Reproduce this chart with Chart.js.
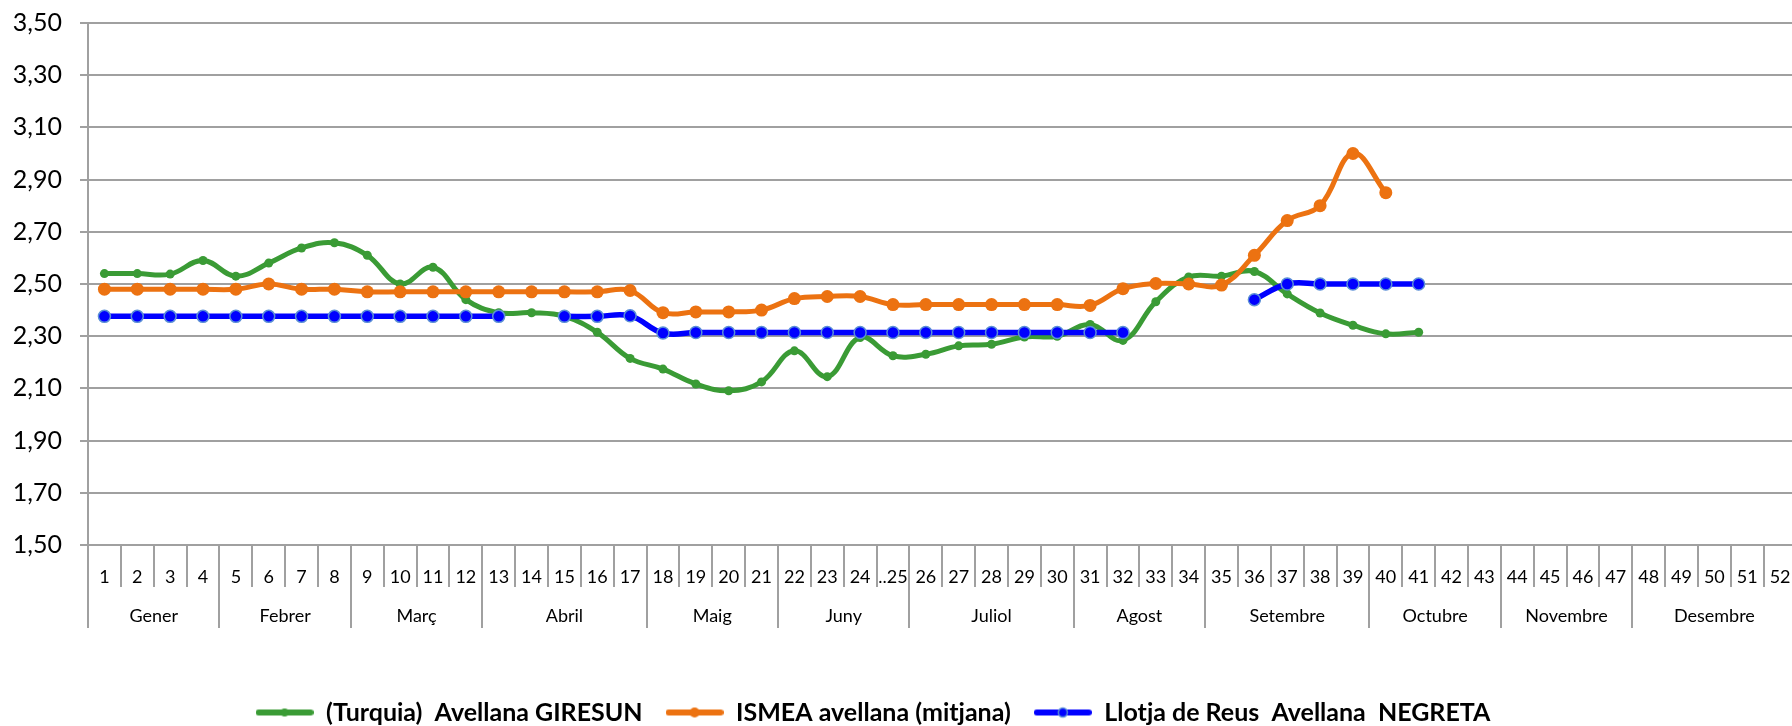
<!DOCTYPE html>
<html>
<head>
<meta charset="utf-8">
<script src="https://cdn.jsdelivr.net/npm/chart.js@4/dist/chart.umd.min.js"></script>
<style>
  html, body { margin: 0; padding: 0; background: #fff; overflow: hidden; }
  #wrap { width: 1804px; height: 726px; }
</style>
</head>
<body>
<div id="wrap"><canvas id="chart" width="1804" height="726"></canvas></div>
<script>
// setmanes de l'any
const weeks = ['1','2','3','4','5','6','7','8','9','10','11','12','13','14','15','16','17','18','19','20',
  '21','22','23','24','..25','26','27','28','29','30','31','32','33','34','35','36','37','38','39','40',
  '41','42','43','44','45','46','47','48','49','50','51','52'];

// mesos i nombre de setmanes de cada un
const months = ['Gener','Febrer','Març','Abril','Maig','Juny','Juliol','Agost','Setembre','Octubre','Novembre','Desembre'];
const monthWeeks = [4, 4, 4, 5, 4, 4, 5, 4, 5, 4, 4, 5];

const seriesNames = ['(Turquia)  Avellana GIRESUN', 'ISMEA avellana (mitjana)', 'Llotja de Reus  Avellana  NEGRETA'];

const giresun = [2.54, 2.54, 2.538, 2.59, 2.53, 2.58, 2.638, 2.658, 2.61, 2.50,
  2.564, 2.44, 2.39, 2.39, 2.376, 2.315, 2.215, 2.174, 2.117, 2.091,
  2.125, 2.244, 2.145, 2.295, 2.225, 2.231, 2.263, 2.269, 2.297, 2.30,
  2.345, 2.284, 2.432, 2.527, 2.53, 2.548, 2.462, 2.389, 2.342, 2.309, 2.315,
  null, null, null, null, null, null, null, null, null, null, null];

const ismea = [2.48, 2.48, 2.48, 2.48, 2.48, 2.50, 2.48, 2.48, 2.47, 2.47,
  2.47, 2.47, 2.47, 2.47, 2.47, 2.47, 2.475, 2.39, 2.393, 2.393,
  2.40, 2.444, 2.452, 2.452, 2.421, 2.421, 2.421, 2.421, 2.421, 2.421,
  2.418, 2.482, 2.502, 2.50, 2.496, 2.61, 2.743, 2.80, 3.00, 2.85,
  null, null, null, null, null, null, null, null, null, null, null, null];

const negreta = [2.376, 2.376, 2.376, 2.376, 2.376, 2.376, 2.376, 2.376, 2.376, 2.376,
  2.376, 2.376, 2.376, null, 2.376, 2.376, 2.378, 2.312, 2.314, 2.314,
  2.314, 2.314, 2.314, 2.314, 2.314, 2.314, 2.314, 2.314, 2.314, 2.314,
  2.314, 2.314, null, null, null, 2.44, 2.50, 2.50, 2.50, 2.50, 2.50,
  null, null, null, null, null, null, null, null, null, null, null];

const Y_MIN = 1.5;
const Y_MAX = 3.5;
const Y_STEP = 0.2;

const GREEN = '#3a9b35';
const ORANGE = '#ec7211';
const BLUE = '#0000ff';
const GRID = '#a0a0a0';
const FONT = 'Lato, "Open Sans", sans-serif';

// icona de llegenda: linia amb punt al mig
function legendIcon(color, radius, border) {
  const c = document.createElement('canvas');
  c.width = 58; c.height = 16;
  const g = c.getContext('2d');
  g.strokeStyle = color; g.lineWidth = 6; g.lineCap = 'round';
  g.beginPath(); g.moveTo(3, 8); g.lineTo(55, 8); g.stroke();
  g.fillStyle = color;
  g.beginPath(); g.arc(29, 8, radius, 0, Math.PI * 2); g.fill();
  if (border) { g.strokeStyle = border; g.lineWidth = 1.5; g.stroke(); }
  return c;
}

// separadors de setmanes i mesos sota l'eix
const axisGroups = {
  id: 'axisGroups',
  afterDraw(chart) {
    const { ctx, chartArea, scales: { x } } = chart;
    const half = (x.getPixelForValue(1) - x.getPixelForValue(0)) / 2;
    const top = chartArea.bottom;
    ctx.save();
    ctx.strokeStyle = GRID;
    ctx.lineWidth = 2;
    const bounds = new Set([0]);
    let acc = 0;
    monthWeeks.forEach(n => { acc += n; bounds.add(acc); });
    for (let i = 0; i <= weeks.length; i++) {
      const px = Math.round(x.getPixelForValue(0) - half + i * 2 * half);
      ctx.beginPath();
      ctx.moveTo(px, top);
      ctx.lineTo(px, bounds.has(i) ? top + 83 : top + 42);
      ctx.stroke();
    }
    ctx.fillStyle = '#000';
    ctx.font = '18px ' + FONT;
    ctx.textAlign = 'center';
    ctx.textBaseline = 'middle';
    let start = 0;
    months.forEach((m, k) => {
      const l = x.getPixelForValue(start) - half;
      const r = x.getPixelForValue(start + monthWeeks[k] - 1) + half;
      ctx.fillText(m, (l + r) / 2, top + 71);
      start += monthWeeks[k];
    });
    ctx.restore();
  }
};

const ctx = document.getElementById('chart').getContext('2d');

new Chart(ctx, {
  type: 'line',
  data: {
    labels: weeks,
    datasets: [
      {
        label: seriesNames[0],
        data: giresun,
        borderColor: GREEN,
        backgroundColor: GREEN,
        borderWidth: 5,
        pointRadius: 4.5,
        pointBorderWidth: 0,
        tension: 0.4,
        order: 3,
        icon: legendIcon(GREEN, 4),
      },
      {
        label: seriesNames[1],
        data: ismea,
        borderColor: ORANGE,
        backgroundColor: ORANGE,
        borderWidth: 5,
        pointRadius: 6.5,
        pointBorderWidth: 0,
        tension: 0.4,
        order: 2,
        icon: legendIcon(ORANGE, 5),
      },
      {
        label: seriesNames[2],
        data: negreta,
        borderColor: BLUE,
        backgroundColor: BLUE,
        borderWidth: 5.5,
        pointRadius: 6,
        pointBorderColor: '#5b8fd6',
        pointBorderWidth: 1.5,
        tension: 0.4,
        order: 1,
        icon: legendIcon(BLUE, 4.5, '#5b8fd6'),
      },
    ],
  },
  options: {
    responsive: false,
    animation: false,
    devicePixelRatio: 1,
    layout: { padding: { top: 23, left: -58, right: 0, bottom: -9 } },
    scales: {
      y: {
        min: Y_MIN,
        max: Y_MAX,
        afterFit: scale => {
          scale.width = 146;
          scale.paddingTop = 0;
          scale.paddingBottom = 0;
        },
        ticks: {
          stepSize: Y_STEP,
          padding: 18,
          color: '#000',
          font: { family: FONT, size: 25 },
          callback: v => v.toFixed(2).replace('.', ','),
        },
        grid: { color: GRID, lineWidth: 2, tickLength: 8 },
        border: { display: true, color: GRID, width: 2 },
      },
      x: {
        offset: true,
        afterFit: scale => {
          scale.height = 132;
          scale.paddingLeft = 0;
          scale.paddingRight = 0;
        },
        ticks: {
          autoSkip: false,
          maxRotation: 0,
          padding: 21,
          color: '#000',
          font: { family: FONT, size: 18 },
        },
        grid: { display: true, drawOnChartArea: false, drawTicks: false },
        border: { display: false },
      },
    },
    plugins: {
      tooltip: { enabled: false },
      legend: {
        position: 'bottom',
        labels: {
          usePointStyle: true,
          pointStyleWidth: 58,
          padding: 23,
          color: '#000',
          font: { family: FONT, size: 25, weight: 'bold' },
          generateLabels: chart => chart.data.datasets.map((ds, i) => ({
            text: ds.label,
            pointStyle: ds.icon,
            fillStyle: ds.borderColor,
            strokeStyle: ds.borderColor,
            lineWidth: 0,
            hidden: false,
            datasetIndex: i,
            fontColor: '#000',
          })),
        },
      },
    },
  },
  plugins: [axisGroups],
});
</script>
</body>
</html>
